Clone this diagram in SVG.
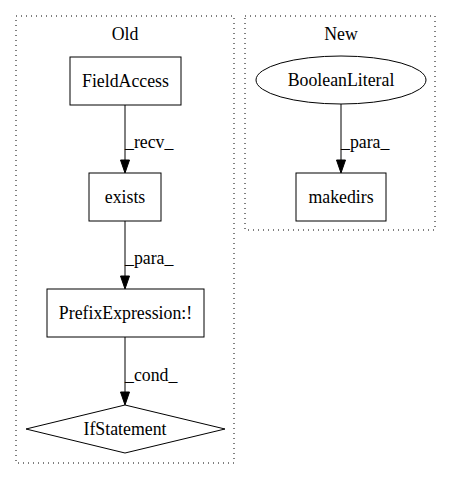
<svg xmlns="http://www.w3.org/2000/svg" width="453" height="480" viewBox="0 0 453 480">
<style>
  text { font-family: "Liberation Serif", "Times New Roman", serif; font-size: 17.8px; fill: #000; }
  .c { text-anchor: middle; }
  .cluster { fill: none; stroke: #000; stroke-width: 1; stroke-dasharray: 1 4; }
  .node { fill: #fff; stroke: #000; stroke-width: 1; }
  .edge { stroke: #000; stroke-width: 1; fill: none; }
  .head { fill: #000; stroke: #000; stroke-width: 1; }
</style>
<rect width="453" height="480" fill="#fff"/>

<!-- clusters -->
<g id="cluster_old">
  <rect class="cluster" x="16" y="16" width="218" height="447"/>
  <text class="c" x="125" y="40">Old</text>
</g>
<g id="cluster_new">
  <rect class="cluster" x="245" y="16" width="190" height="214"/>
  <text class="c" x="341" y="40">New</text>
</g>

<!-- connectors -->
<g id="edges">
  <line class="edge" x1="125" y1="105" x2="125" y2="160"/>
  <polygon class="head" points="120.5,160 129.5,160 125,173"/>
  <text x="125" y="148">_recv_</text>

  <line class="edge" x1="125" y1="221" x2="125" y2="276"/>
  <polygon class="head" points="120.5,276 129.5,276 125,289"/>
  <text x="125" y="264">_para_</text>

  <line class="edge" x1="125" y1="337" x2="125" y2="392"/>
  <polygon class="head" points="120.5,392 129.5,392 125,405"/>
  <text x="125" y="381">_cond_</text>

  <line class="edge" x1="341" y1="104" x2="341" y2="160"/>
  <polygon class="head" points="336.5,160 345.5,160 341,173"/>
  <text x="341" y="148">_para_</text>
</g>

<!-- nodes -->
<g id="FieldAccess">
  <rect class="node" x="70" y="57" width="111" height="48"/>
  <text class="c" x="125.5" y="87">FieldAccess</text>
</g>
<g id="exists">
  <rect class="node" x="89" y="173" width="72" height="48"/>
  <text class="c" x="125" y="203">exists</text>
</g>
<g id="PrefixExpression">
  <rect class="node" x="47" y="289" width="157" height="48"/>
  <text class="c" x="125.5" y="319">PrefixExpression:!</text>
</g>
<g id="IfStatement">
  <polygon class="node" points="125,405 225,429 125,453 26,429"/>
  <text class="c" x="125" y="435">IfStatement</text>
</g>
<g id="BooleanLiteral">
  <ellipse class="node" cx="341" cy="80" rx="85" ry="24"/>
  <text class="c" x="341" y="86">BooleanLiteral</text>
</g>
<g id="makedirs">
  <rect class="node" x="296" y="173" width="90" height="48"/>
  <text class="c" x="341" y="203">makedirs</text>
</g>
</svg>
